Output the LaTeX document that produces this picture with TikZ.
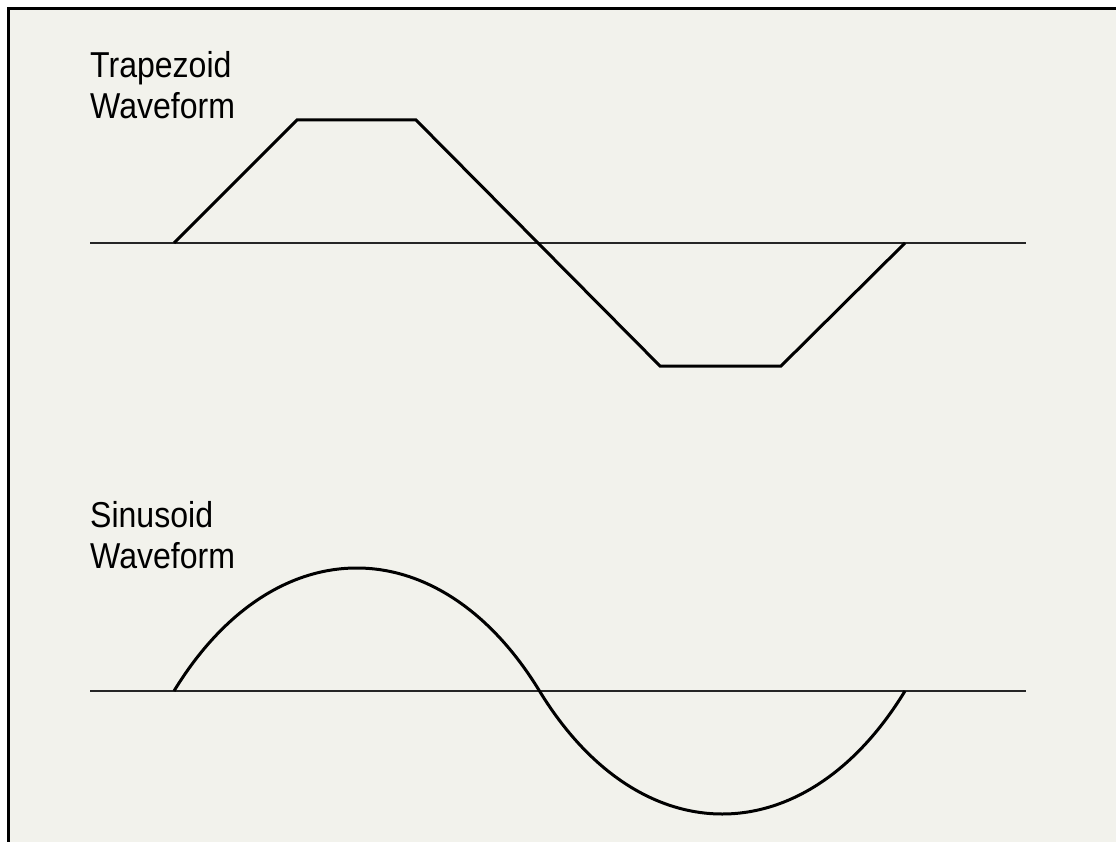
\documentclass[tikz,border=0pt]{standalone}
\usepackage{fontspec}
\setmainfont{Liberation Sans}
\definecolor{bgpanel}{HTML}{F2F2EC}
\begin{document}
\begin{tikzpicture}[x=1pt,y=-1pt,
  axisline/.style={line width=1.4pt,draw=black!85},
  wave/.style={line width=3pt,line join=miter,draw=black},
  lbl/.style={anchor=base west,inner sep=0pt,font=\fontsize{36}{41}\selectfont}]
\useasboundingbox (0,0) rectangle (1116,842);
\fill[white] (0,0) rectangle (1116,842);
\fill[bgpanel] (8,9) rectangle (1116,842);
\draw[line width=3pt] (8,842) -- (8,9) -- (1116,9);
% labels
\node[lbl] (t1) at (90,78) {\scalebox{0.89}[1]{Trapezoid}};
\node[lbl] (t2) at (90,119) {\scalebox{0.89}[1]{Waveform}};
\node[lbl] (s1) at (90,527) {\scalebox{0.89}[1]{Sinusoid}};
\node[lbl] (s2) at (90,568) {\scalebox{0.89}[1]{Waveform}};
% trapezoid
\coordinate (ta0) at (90,243);
\coordinate (ta1) at (1026,243);
\draw[axisline] (ta0) -- (ta1);
\coordinate (p0) at (174,243);
\coordinate (p1) at (297,120);
\coordinate (p2) at (416,120);
\coordinate (p3) at (660,366);
\coordinate (p4) at (781,366);
\coordinate (p5) at (905,243);
\draw[wave] (p0) -- (p1) -- (p2) -- (p3) -- (p4) -- (p5);
% sinusoid
\coordinate (sa0) at (90,691);
\coordinate (sa1) at (1026,691);
\draw[axisline] (sa0) -- (sa1);
\coordinate (q0) at (174,691);
\coordinate (q1) at (539.5,691);
\coordinate (q2) at (905,691);
\draw[wave] (q0) .. controls (274,527) and (439.5,527) .. (q1)
                 .. controls (639.5,855) and (805,855) .. (q2);
\end{tikzpicture}
\end{document}
